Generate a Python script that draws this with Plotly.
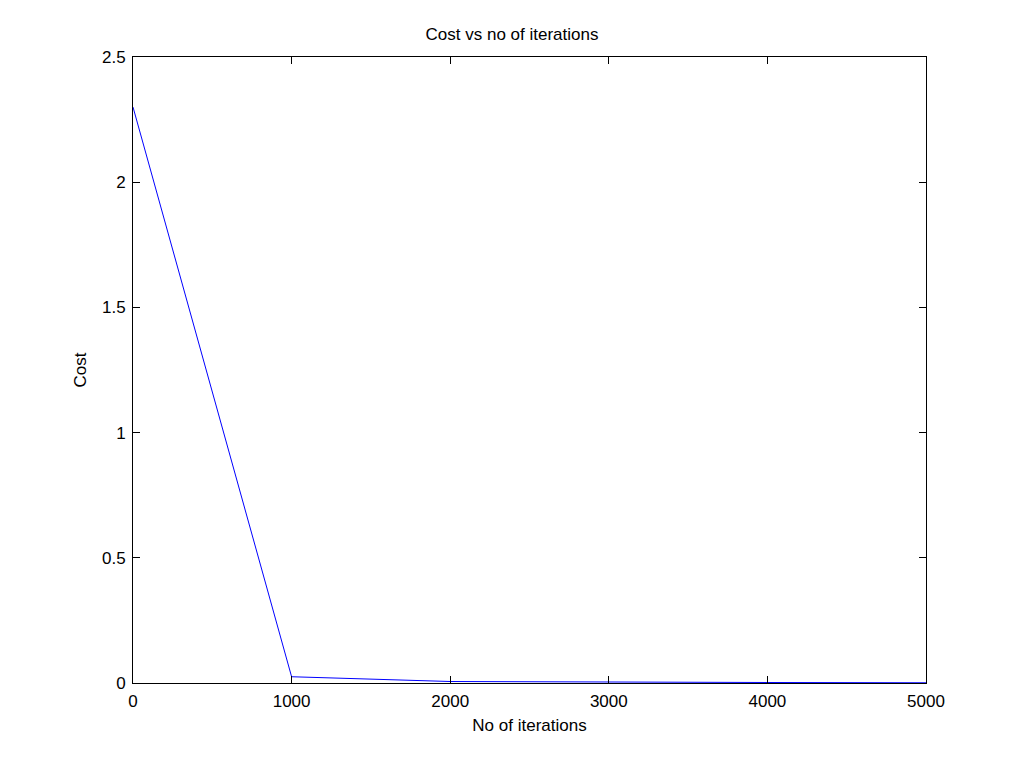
import plotly.graph_objects as go

iterations = [0, 1000, 2000, 3000, 4000, 5000]
cost = [2.3, 0.025, 0.006, 0.003, 0.002, 0.001]
x_ticks = [0, 1000, 2000, 3000, 4000, 5000]
y_ticks = [0, 0.5, 1, 1.5, 2, 2.5]
y_tick_text = ["0", "0.5", "1", "1.5", "2", "2.5"]

FONT = "Liberation Sans, Arial, sans-serif"
FS = 17

fig = go.Figure()
fig.add_trace(go.Scatter(x=iterations, y=cost, mode="lines",
                         line=dict(color="#0000ff", width=1), showlegend=False))

axis_common = dict(showgrid=False, zeroline=False, showline=True, linecolor="black",
                   linewidth=1, mirror="ticks", ticks="inside", ticklen=7,
                   tickcolor="black", ticklabelstandoff=3,
                   tickfont=dict(size=FS, color="black", family=FONT))

# page has an 8px body margin; figure sized to fit the 1024x768 window
W, H = 1008, 752
fig.update_layout(
    width=W, height=H,
    paper_bgcolor="white", plot_bgcolor="white",
    margin=dict(l=125, r=90, t=49, b=77),
    title=dict(text="Cost vs no of iterations", x=0.5, xanchor="center",
               y=1 - 26 / H, yanchor="middle",
               font=dict(size=FS, color="black", family=FONT)),
    xaxis=dict(range=[0, 5000], tickvals=x_ticks, ticktext=[str(v) for v in x_ticks],
               title=dict(text="No of iterations", standoff=8,
                          font=dict(size=FS, color="black", family=FONT)),
               **axis_common),
    yaxis=dict(range=[0, 2.5], tickvals=y_ticks, ticktext=y_tick_text,
               title=dict(text="Cost", standoff=11,
                          font=dict(size=FS, color="black", family=FONT)),
               **axis_common),
)

fig.write_html("out.html")
